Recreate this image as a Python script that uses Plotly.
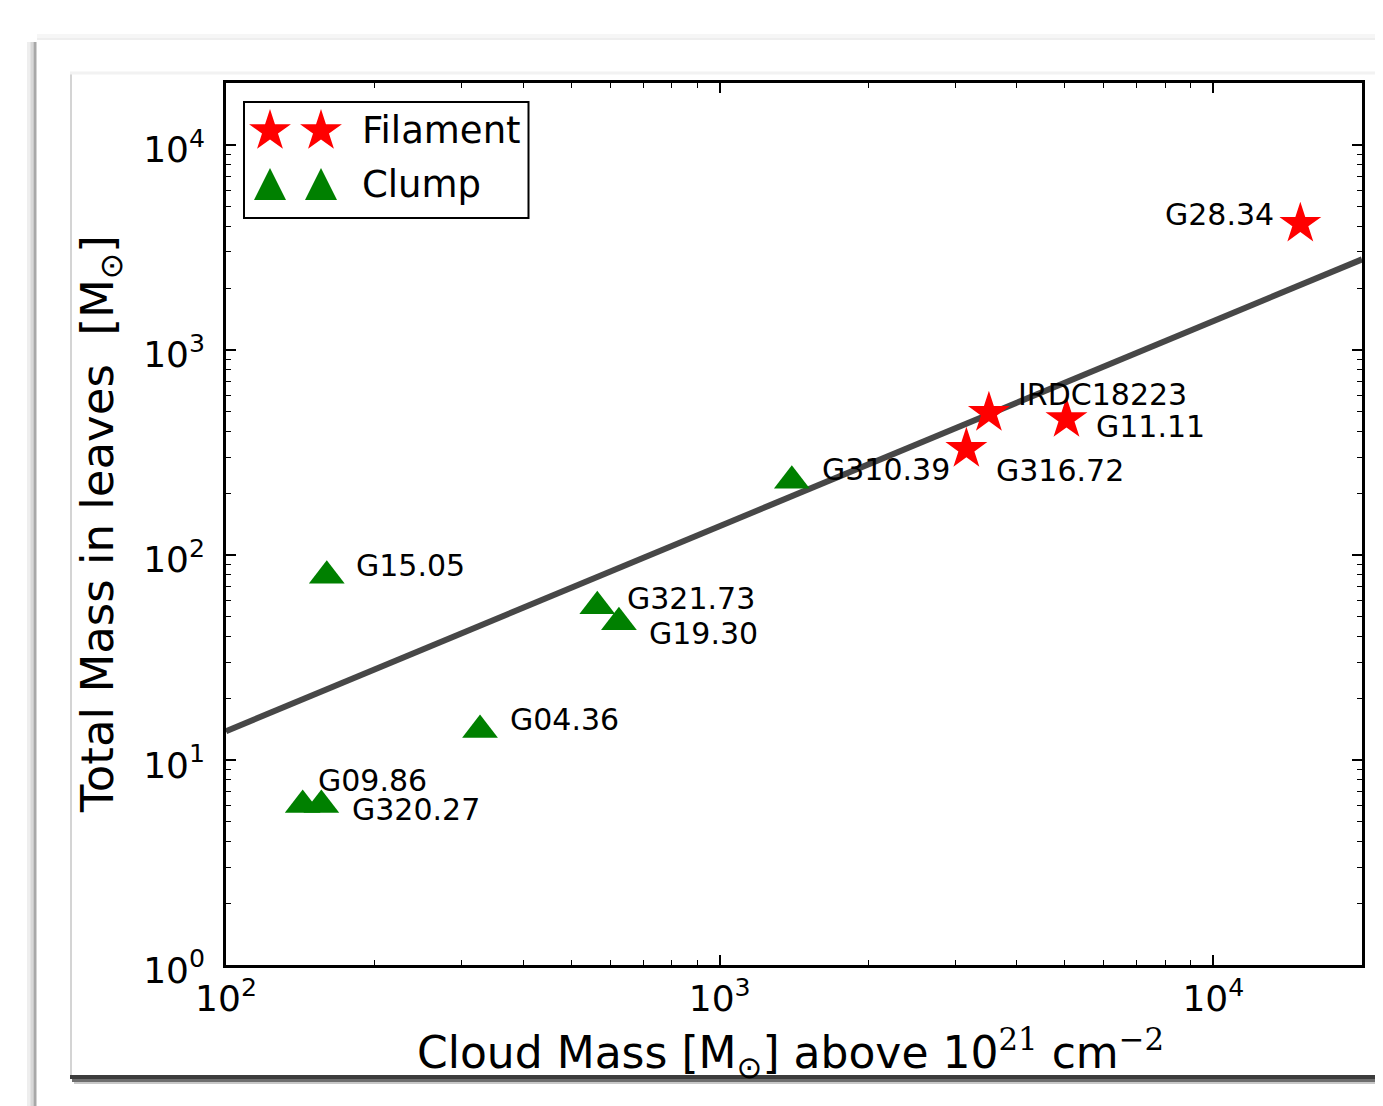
import math
import plotly.graph_objects as go

# ---------------- data ----------------
fil_names = ["G28.34", "IRDC18223", "G11.11", "G316.72"]
fil_cloud = [15000, 3510, 5040, 3160]
fil_leaves = [4120, 493, 460, 329]

clump_names = ["G310.39", "G15.05", "G321.73", "G19.30", "G04.36", "G09.86", "G320.27"]
clump_cloud = [1400, 160, 565, 625, 327, 143, 156]
clump_leaves = [230, 79, 56.1, 46.9, 14.0, 6.03, 6.03]

fit_cloud = [100, 20000]
fit_leaves = [13.8, 2760]

x_tickvals = [100, 1000, 10000]
x_ticktext = ["10<sup>2</sup>", "10<sup>3</sup>", "10<sup>4</sup>"]
y_tickvals = [1, 10, 100, 1000, 10000]
y_ticktext = ["10<sup>0</sup>", "10<sup>1</sup>", "10<sup>2</sup>", "10<sup>3</sup>", "10<sup>4</sup>"]

legend_labels = ["Filament", "Clump"]

# ---------------- layout geometry ----------------
W, H = 1383, 1106
OFF = 8                      # page body margin of the browser
L, R, T, B = 226, 1362, 83, 965   # plot area in screen pixels
FONT = "DejaVu Sans"


def px2x(p):
    return (p - L) / (R - L)


def py2y(p):
    return (B - p) / (B - T)


# label offsets (pixels) relative to the marker: xshift, yshift, xanchor
label_style = {
    "G28.34": (-24, 9, "right"),
    "IRDC18223": (27, 18, "left"),
    "G11.11": (28, -8, "left"),
    "G316.72": (28, -22, "left"),
    "G310.39": (28, 11, "left"),
    "G15.05": (27, 10, "left"),
    "G321.73": (28, 8, "left"),
    "G19.30": (28, -11, "left"),
    "G04.36": (28, 10, "left"),
    "G09.86": (13, 24, "left"),
    "G320.27": (29, -5, "left"),
}

fig = go.Figure()

fig.add_trace(go.Scatter(
    x=fit_cloud, y=fit_leaves, mode="lines",
    line=dict(color="#474747", width=6), hoverinfo="skip", showlegend=False))

fig.add_trace(go.Scatter(
    x=clump_cloud, y=clump_leaves, mode="markers", name="Clump",
    marker=dict(symbol="triangle-up", size=31, color="green", line=dict(width=0)),
    showlegend=False))

fig.add_trace(go.Scatter(
    x=fil_cloud, y=fil_leaves, mode="markers", name="Filament",
    marker=dict(symbol="star", size=31.5, color="red", line=dict(width=0)),
    showlegend=False))

annotations = []
for names, xs, ys in ((fil_names, fil_cloud, fil_leaves), (clump_names, clump_cloud, clump_leaves)):
    for n, xv, yv in zip(names, xs, ys):
        dx, dy, anc = label_style[n]
        annotations.append(dict(
            x=math.log10(xv), y=math.log10(yv), xref="x", yref="y",
            text=n, showarrow=False, xanchor=anc, yanchor="middle",
            xshift=dx, yshift=dy, font=dict(family=FONT, size=30, color="black")))

# axis titles
serif = "<span style=\"font-family:'DejaVu Serif'\">%s</span>"
annotations.append(dict(
    x=px2x(790), y=py2y(1053), xref="paper", yref="paper",
    text="Cloud Mass [M<sub>⊙</sub>] above 10<sup>" + serif % "21" + "</sup> cm<sup>" + serif % "−2" + "</sup>",
    showarrow=False, xanchor="center", yanchor="middle",
    font=dict(family=FONT, size=44, color="black")))
annotations.append(dict(
    x=px2x(100), y=py2y(524), xref="paper", yref="paper",
    text="Total Mass in leaves  [M<sub>⊙</sub>]", textangle=-90,
    showarrow=False, xanchor="center", yanchor="middle",
    font=dict(family=FONT, size=45, color="black")))

# legend texts
leg_text_y = [131, 184]
for lab, yy in zip(legend_labels, leg_text_y):
    annotations.append(dict(
        x=px2x(360), y=py2y(yy), xref="paper", yref="paper", text=lab,
        showarrow=False, xanchor="left", yanchor="middle",
        font=dict(family=FONT, size=37, color="black")))

shapes = []


def pline(x0, y0, x1, y1, color, width):
    shapes.append(dict(type="line", xref="paper", yref="paper",
                       x0=px2x(x0), y0=py2y(y0), x1=px2x(x1), y1=py2y(y1),
                       line=dict(color=color, width=width), layer="below"))


# outer panel shadow (left and top)
pline(29, 42, 29, H + 5, "#eeeeee", 4)
pline(32, 42, 32, H + 5, "#d8d8d8", 3)
pline(35, 42, 35, H + 5, "#a8a8a8", 3)
pline(37, 36, W + 5, 36, "#f6f6f6", 4)
pline(37, 39, W + 5, 39, "#eeeeee", 2)
# inner panel edges
pline(71, 73, 71, 1076, "#d4d4d4", 2)
pline(70, 73, W + 5, 73, "#f2f2f2", 3)
# inner panel bottom shadow
pline(70, 1077, W + 5, 1077, "#3c3c3c", 4)
pline(72, 1080.5, W + 5, 1080.5, "#6e6e6e", 3)
pline(74, 1083, W + 5, 1083, "#c8c8c8", 2)

# legend frame
shapes.append(dict(type="rect", xref="paper", yref="paper",
                   x0=px2x(244), x1=px2x(528.5), y0=py2y(218), y1=py2y(102),
                   line=dict(color="black", width=2), fillcolor="white", layer="above"))


def star_path(Rr):
    pts = []
    for k in range(10):
        a = math.radians(90 + 36 * k)
        r = Rr if k % 2 == 0 else Rr * 0.381966
        pts.append((r * math.cos(a), r * math.sin(a)))
    return "M " + " L ".join(f"{x:.2f},{y:.2f}" for x, y in pts) + " Z"


def tri_path(h):
    return f"M 0,{h} L {-h},{-h} L {h},{-h} Z"


for cx in (270, 321):
    shapes.append(dict(type="path", xref="paper", yref="paper",
                       xsizemode="pixel", ysizemode="pixel",
                       xanchor=px2x(cx), yanchor=py2y(131),
                       path=star_path(22), fillcolor="red", line=dict(width=0), layer="above"))
    shapes.append(dict(type="path", xref="paper", yref="paper",
                       xsizemode="pixel", ysizemode="pixel",
                       xanchor=px2x(cx), yanchor=py2y(184),
                       path=tri_path(16), fillcolor="green", line=dict(width=0), layer="above"))

axis_common = dict(
    type="log", showgrid=False, zeroline=False,
    showline=True, linecolor="black", linewidth=2.5, mirror="allticks",
    ticks="inside", ticklen=10, tickwidth=1.5, tickcolor="black",
    tickfont=dict(family=FONT, size=36, color="black"),
    minor=dict(ticks="inside", ticklen=5, tickwidth=1.2, tickcolor="black", dtick="D1", showgrid=False),
)

fig.update_layout(
    width=W, height=H,
    margin=dict(l=L - OFF, r=W - (R - OFF), t=T - OFF, b=H - (B - OFF)),
    paper_bgcolor="white", plot_bgcolor="white",
    font=dict(family=FONT, color="black"),
    xaxis=dict(axis_common, range=[2, math.log10(20000)],
               tickmode="array", tickvals=x_tickvals, ticktext=x_ticktext,
               ticklabelstandoff=0),
    yaxis=dict(axis_common, range=[0, math.log10(20000)],
               tickmode="array", tickvals=y_tickvals, ticktext=y_ticktext,
               ticklabelstandoff=11, ticklabelshift=5),
    annotations=annotations, shapes=shapes, showlegend=False,
)

fig.write_html("out.html")
